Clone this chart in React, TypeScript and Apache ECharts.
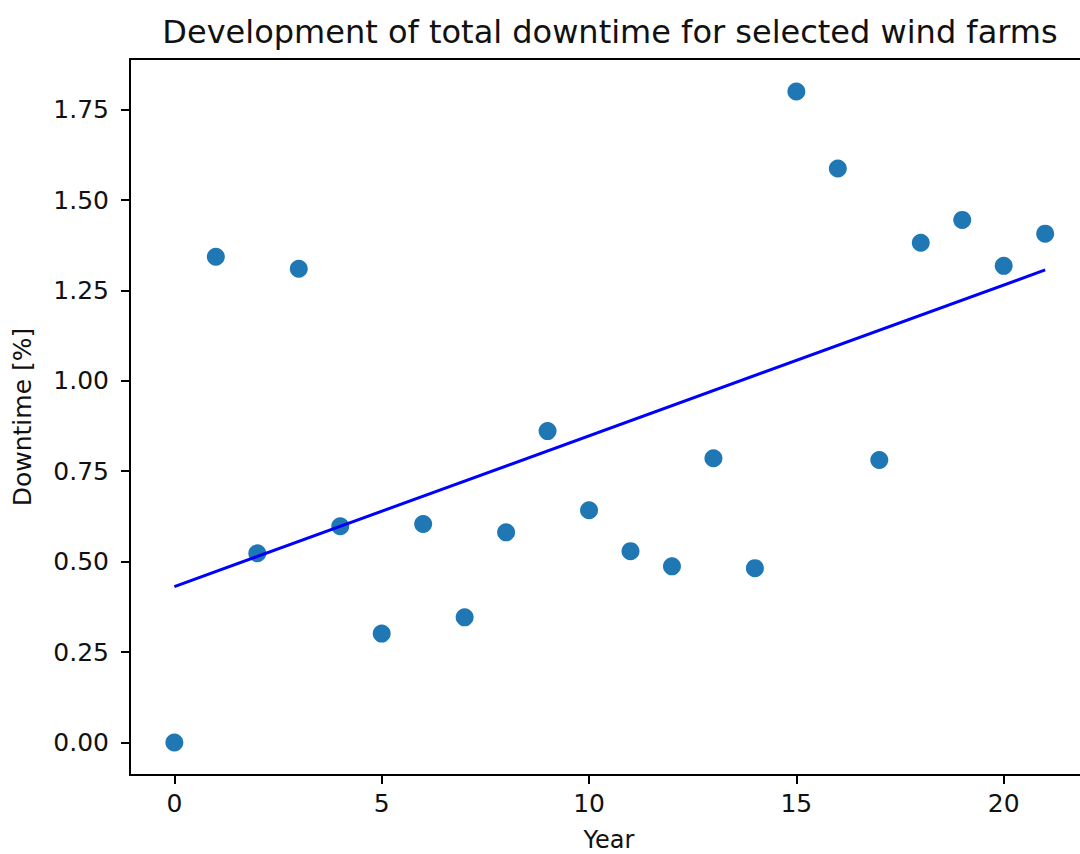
import React, { useEffect, useRef } from "react";
import * as echarts from "echarts";

const years = [0, 1, 2, 3, 4, 5, 6, 7, 8, 9, 10, 11, 12, 13, 14, 15, 16, 17, 18, 19, 20, 21];
const downtime = [
  0.0, 1.343, 0.523, 1.31, 0.598, 0.301, 0.604, 0.346, 0.581, 0.861, 0.642,
  0.529, 0.487, 0.786, 0.482, 1.8, 1.587, 0.781, 1.382, 1.445, 1.318, 1.407,
];
const xTicks = [0, 5, 10, 15, 20];
const yTicks = [0, 0.25, 0.5, 0.75, 1.0, 1.25, 1.5, 1.75];

function linearFit(xs: number[], ys: number[]) {
  const n = xs.length;
  const mx = xs.reduce((a, b) => a + b, 0) / n;
  const my = ys.reduce((a, b) => a + b, 0) / n;
  let num = 0;
  let den = 0;
  for (let i = 0; i < n; i++) {
    num += (xs[i] - mx) * (ys[i] - my);
    den += (xs[i] - mx) * (xs[i] - mx);
  }
  const slope = num / den;
  return { slope, intercept: my - slope * mx };
}

export default function App() {
  const ref = useRef<HTMLDivElement>(null);
  useEffect(() => {
    if (!ref.current) return;
    const chart = echarts.init(ref.current, null, { renderer: "svg" });
    const fit = linearFit(years, downtime);
    const x0 = years[0];
    const x1 = years[years.length - 1];
    const trend = [
      [x0, fit.intercept + fit.slope * x0],
      [x1, fit.intercept + fit.slope * x1],
    ];
    const font = "DejaVu Sans";
    const textColor = "#111";
    const xMin = -1.07;
    const xMax = 21.84;
    chart.setOption({
      animation: false,
      backgroundColor: "#fff",
      title: {
        text: "Development of total downtime for selected wind farms",
        left: 605,
        top: 11,
        textAlign: "center",
        textStyle: { fontFamily: font, fontSize: 32, fontWeight: "normal", color: textColor },
      },
      grid: {
        left: 130,
        top: 59,
        right: 0,
        bottom: 79,
        show: false,
        containLabel: false,
        outerBoundsMode: "none",
      },
      xAxis: [
        {
          type: "value",
          min: xMin,
          max: xMax,
          name: "Year",
          nameLocation: "middle",
          nameGap: 53,
          nameTextStyle: { fontFamily: font, fontSize: 24, lineHeight: 24, color: textColor, padding: [0, 0, 0, 8] },
          axisLine: { show: true, onZero: false, lineStyle: { color: "#000", width: 2 } },
          axisTick: { show: true, length: 9, customValues: xTicks, lineStyle: { color: "#000", width: 2 } },
          axisLabel: {
            customValues: xTicks,
            margin: 16,
            fontFamily: font,
            fontSize: 25,
            color: textColor,
            formatter: (v: number) => String(v),
          },
          splitLine: { show: false },
        },
        {
          type: "value",
          position: "top",
          min: xMin,
          max: xMax,
          axisLine: { show: true, onZero: false, lineStyle: { color: "#000", width: 2 } },
          axisTick: { show: false },
          axisLabel: { show: false },
          splitLine: { show: false },
        },
      ],
      yAxis: {
        type: "value",
        min: -0.09,
        max: 1.89,
        name: "Downtime [%]",
        nameLocation: "middle",
        nameRotate: 90,
        nameGap: 95,
        nameTextStyle: { fontFamily: font, fontSize: 25, color: textColor },
        axisLine: { show: true, onZero: false, lineStyle: { color: "#000", width: 2 } },
        axisTick: { show: true, length: 9, customValues: yTicks, lineStyle: { color: "#000", width: 2 } },
        axisLabel: {
          customValues: yTicks,
          margin: 21,
          fontFamily: font,
          fontSize: 25,
          color: textColor,
          formatter: (v: number) => v.toFixed(2),
        },
        splitLine: { show: false },
      },
      series: [
        {
          type: "scatter",
          data: years.map((x, i) => [x, downtime[i]]),
          symbol: "circle",
          symbolSize: 18,
          itemStyle: { color: "#1f77b4", opacity: 1 },
          z: 2,
        },
        {
          type: "line",
          data: trend,
          showSymbol: false,
          symbol: "none",
          lineStyle: { color: "#0000ff", width: 3 },
          z: 3,
        },
      ],
    });
    return () => chart.dispose();
  }, []);
  return (
    <div
      ref={ref}
      style={{ position: "absolute", left: 0, top: 0, width: 1080, height: 854 }}
    />
  );
}
